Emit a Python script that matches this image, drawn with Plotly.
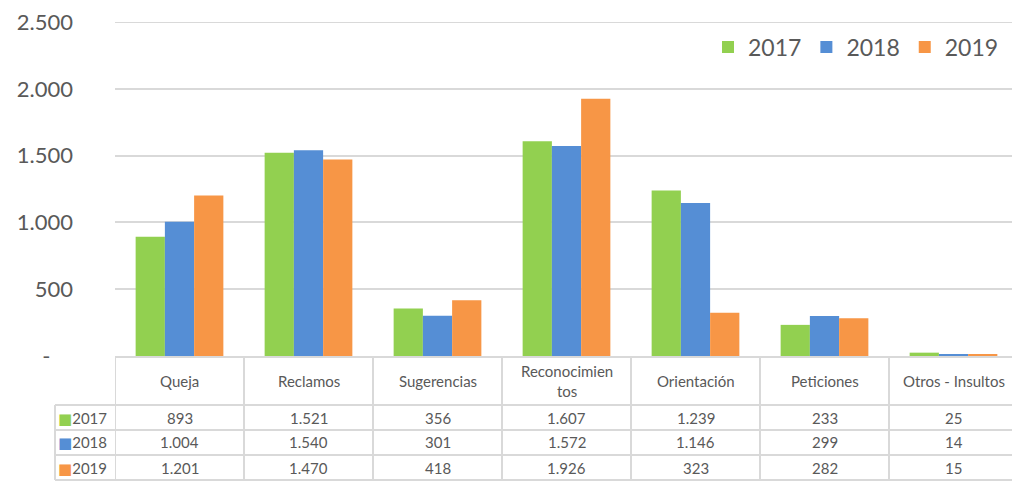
import plotly.graph_objects as go

categories = ["Queja", "Reclamos", "Sugerencias", "Reconocimientos", "Orientación", "Peticiones", "Otros - Insultos"]
header_labels = ["Queja", "Reclamos", "Sugerencias", "Reconocimien<br>tos", "Orientación", "Peticiones", "Otros - Insultos"]
years = ["2017", "2018", "2019"]
v2017 = [893, 1521, 356, 1607, 1239, 233, 25]
v2018 = [1004, 1540, 301, 1572, 1146, 299, 14]
v2019 = [1201, 1470, 418, 1926, 323, 282, 15]
series = [v2017, v2018, v2019]
colors = ["#92D050", "#558ED5", "#F79646"]
tick_vals = [0, 500, 1000, 1500, 2000, 2500]
tick_text = ["-\u00a0\u00a0\u00a0\u00a0", "500", "1.000", "1.500", "2.000", "2.500"]
y_max = 2500

# page body has an 8px default margin; figure sized to fit window
OFF = 8
W, H = 1020 - OFF, 485 - OFF
# plot area in page pixels
PL, PR, PT, PB = 115, 1018, 22, 356
L, R, T, B = PL - OFF, W - (PR - OFF), PT - OFF, H - (PB - OFF)
PH = PB - PT
PW = PR - PL
TXT = "#595959"
LINE = "#D9D9D9"
FONT = "Lato, 'DejaVu Sans', sans-serif"


def py(p):
    return (PB - p) / PH


def px(p):
    return (p - PL) / PW


def fmt(v):
    return f"{v:,}".replace(",", ".")


fig = go.Figure()
for name, vals, col in zip(years, series, colors):
    fig.add_trace(go.Bar(x=categories, y=vals, name=name, marker=dict(color=col, line=dict(width=0))))

shapes = []
# top gridline (plotly omits grid exactly at the range edge)
shapes.append(dict(type="line", xref="paper", yref="y", x0=0, x1=1, y0=y_max, y1=y_max, layer="below",
                   line=dict(color=LINE, width=2)))
shapes.append(dict(type="line", xref="paper", yref="paper", x0=0, x1=1, y0=py(357), y1=py(357), line=dict(color=LINE, width=2)))
for yy in [405, 430, 455, 480]:
    shapes.append(dict(type="line", xref="paper", yref="paper", x0=px(55), x1=1, y0=py(yy), y1=py(yy), line=dict(color=LINE, width=2)))
for i in range(len(categories) + 1):
    shapes.append(dict(type="line", xref="x", yref="paper", x0=i - 0.5, x1=i - 0.5, y0=py(357), y1=py(480), line=dict(color=LINE, width=2)))
shapes.append(dict(type="line", xref="paper", yref="paper", x0=px(55), x1=px(55), y0=py(405), y1=py(480), line=dict(color=LINE, width=2)))

annotations = []
for cat, lab in zip(categories, header_labels):
    annotations.append(dict(x=cat, xref="x", y=py(381), yref="paper", text=lab, showarrow=False,
                            font=dict(size=15, color=TXT, family=FONT), yanchor="middle"))
row_y = [417.5, 442.5, 467.5]
for name, vals, col, ry in zip(years, series, colors, row_y):
    for cat, v in zip(categories, vals):
        annotations.append(dict(x=cat, xref="x", y=py(ry), yref="paper", text=fmt(v), showarrow=False,
                                font=dict(size=15, color=TXT, family=FONT), yanchor="middle"))
    annotations.append(dict(x=px(56), xref="paper", y=py(ry), yref="paper", xanchor="left",
                            text=f"<span style='color:{col}'>■</span>{name}", showarrow=False,
                            font=dict(size=15, color=TXT, family=FONT), yanchor="middle"))

fig.update_layout(
    width=W, height=H,
    margin=dict(l=L, r=R, t=T, b=B, autoexpand=False),
    plot_bgcolor="white", paper_bgcolor="white",
    barmode="group", bargap=0.32, bargroupgap=0,
    font=dict(family=FONT, color=TXT),
    xaxis=dict(showticklabels=False, showgrid=False, zeroline=False, showline=False, range=[-0.5, 6.5],
               automargin=False),
    yaxis=dict(range=[0, y_max], tickvals=tick_vals, ticktext=tick_text, showgrid=True, gridcolor=LINE,
               gridwidth=2, zeroline=False, showline=False, tickfont=dict(size=22, color=TXT, family=FONT),
               ticklabelstandoff=41, automargin=False, ticklabeloverflow="allow"),
    legend=dict(orientation="h", x=px(1004), xanchor="right", y=py(47), yanchor="middle",
                font=dict(size=23, color=TXT, family=FONT), itemwidth=30, traceorder="normal",
                bgcolor="rgba(0,0,0,0)"),
    shapes=shapes, annotations=annotations,
)
fig.write_html("out.html")
